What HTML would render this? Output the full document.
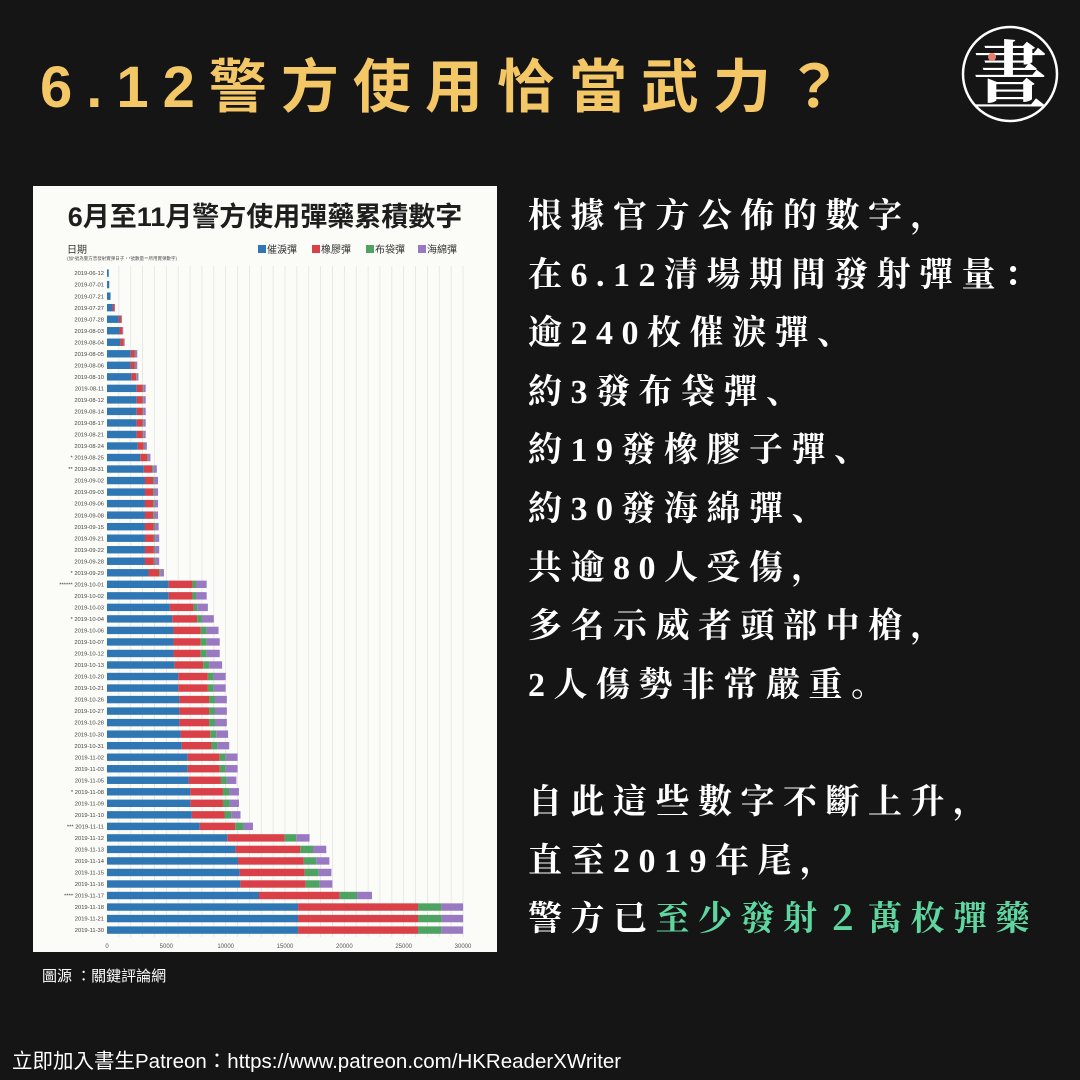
<!DOCTYPE html>
<html><head><meta charset="utf-8">
<style>
html,body{margin:0;padding:0;background:#151515;}
#root{position:relative;width:1080px;height:1080px;overflow:hidden;background:#151515;font-family:"Liberation Sans","Noto Sans CJK TC",sans-serif;}
.title{position:absolute;left:40px;top:52px;font-size:58px;font-weight:bold;color:#f4c766;letter-spacing:14px;white-space:nowrap;font-family:"Liberation Sans","Noto Sans CJK TC",sans-serif;line-height:72px;}
.body{position:absolute;left:528px;top:188px;color:#fff;font-family:"Liberation Serif","Noto Serif CJK SC",serif;font-weight:bold;font-size:34px;letter-spacing:8.5px;line-height:58.6px;white-space:nowrap;}
.g{color:#5fd6a0;}
.src{position:absolute;left:42px;top:965px;color:#fff;font-size:15px;}
.foot{position:absolute;left:12px;top:1044px;color:#fff;font-size:20.5px;white-space:nowrap;}
</style></head><body><div id="root">
<div class="title">6.12警方使用恰當武力？</div>
<svg style="position:absolute;left:955px;top:22px" width="120" height="110">
<circle cx="55" cy="52" r="47" fill="none" stroke="#fff" stroke-width="2.5"/>
<text x="55" y="80" fill="#fff" font-size="74" font-weight="bold" text-anchor="middle" font-family="Noto Serif CJK SC,serif">晝</text>
<circle cx="37" cy="35" r="4" fill="#e88070"/>
</svg>
<svg id="chart" style="position:absolute;left:0;top:0" width="1080" height="1080"></svg>
<div class="body">根據官方公佈的數字，<br>在6.12清場期間發射彈量：<br>逾240枚催淚彈、<br>約3發布袋彈、<br>約19發橡膠子彈、<br>約30發海綿彈、<br>共逾80人受傷，<br>多名示威者頭部中槍，<br>2人傷勢非常嚴重。<br><br>自此這些數字不斷上升，<br>直至2019年尾，<br>警方已<span class="g">至少發射２萬枚彈藥</span></div>
<div class="src">圖源 ：關鍵評論網</div>
<div class="foot">立即加入書生Patreon：https://www.patreon.com/HKReaderXWriter</div>
</div>
<script>
var rows=[
["06-12",[150,0,0,0]],["07-01",[190,0,0,0]],["07-21",[300,0,0,0]],["07-27",[500,150,0,20]],
["07-28",[1000,200,20,50]],["08-03",[1050,250,20,50]],["08-04",[1100,300,30,60]],
["08-05",[2000,350,50,150]],["08-06",[2000,350,50,150]],["08-10",[2050,400,50,150]],
["08-11",[2500,500,60,200]],["08-12",[2500,500,60,200]],["08-14",[2500,500,60,200]],["08-17",[2500,500,60,200]],
["08-21",[2500,500,60,200]],["08-24",[2600,500,60,200]],["08-25",[2800,600,60,200]],
["08-31",[3100,700,100,300]],["09-02",[3200,700,100,300]],["09-03",[3200,700,100,300]],["09-06",[3200,700,100,300]],
["09-08",[3200,700,100,300]],["09-15",[3200,750,100,300]],["09-21",[3200,750,100,350]],["09-22",[3200,750,100,350]],
["09-28",[3200,750,100,350]],["09-29",[3500,900,100,300]],
["10-01",[5200,2000,300,900]],["10-02",[5200,2000,300,900]],["10-03",[5300,2000,300,900]],
["10-04",[5500,2100,400,1000]],["10-06",[5600,2300,500,1000]],["10-07",[5600,2300,500,1100]],
["10-12",[5600,2300,500,1100]],["10-13",[5700,2400,500,1100]],["10-20",[6000,2500,500,1000]],
["10-21",[6000,2500,500,1000]],["10-26",[6100,2500,500,1000]],["10-27",[6100,2500,500,1000]],
["10-28",[6100,2500,500,1000]],["10-30",[6200,2500,500,1000]],["10-31",[6300,2500,500,1000]],
["11-02",[6800,2700,500,1000]],["11-03",[6800,2700,500,1000]],["11-05",[6900,2700,500,800]],
["11-08",[7020,2750,560,790]],["11-09",[7020,2750,560,790]],["11-10",[7150,2750,560,790]],
["11-11",[7810,3000,700,790]],["11-12",[10140,4830,980,1120]],["11-13",[10840,5450,1070,1120]],
["11-14",[11040,5530,1070,1100]],["11-15",[11180,5480,1180,1070]],["11-16",[11240,5500,1180,1070]],
["11-17",[12810,6800,1460,1260]],["11-18",[16100,10110,1970,1830]],["11-21",[16100,10110,1970,1830]],["11-30",[16100,10110,1970,1830]]];
var stars={"08-25":"*","08-31":"**","09-29":"*","10-01":"******","10-04":"*","11-08":"*","11-11":"***","11-17":"****"};
var cols=["#2f76b4","#d94047","#4ea262","#9a79c3"];
var F='font-family="Liberation Sans,Noto Sans CJK TC,sans-serif"';
var s='<rect x="33" y="186" width="464" height="766" fill="#fbfbf8"/>';
s+='<text x="265" y="226" font-size="27" font-weight="bold" text-anchor="middle" fill="#1e1e1e" '+F+'>6月至11月警方使用彈藥累積數字</text>';
s+='<text x="67" y="253" font-size="10" fill="#333" '+F+'>日期</text>';
s+='<text x="67" y="260" font-size="4.5" fill="#555" '+F+'>(加*號為警方曾發射實彈日子，*號數量＝所用實彈數字)</text>';
var lx=[258,312,366,418],ln=["催淚彈","橡膠彈","布袋彈","海綿彈"];
for(var i=0;i<4;i++){s+='<rect x="'+lx[i]+'" y="245" width="8" height="8" fill="'+cols[i]+'"/><text x="'+(lx[i]+9)+'" y="253" font-size="10" fill="#333" '+F+'>'+ln[i]+'</text>';}
var x0=107,k=356/30000;
for(var v=1000;v<=30000;v+=1000){var x=x0+v*k;s+='<line x1="'+x+'" y1="266" x2="'+x+'" y2="937" stroke="#e4e4e0" stroke-width="0.8"/>';}
for(var v=0;v<=30000;v+=5000){s+='<text x="'+(x0+v*k)+'" y="948" font-size="6" fill="#555" text-anchor="middle" font-family="Liberation Sans,sans-serif">'+v+'</text>';}
var y0=273,dy=657/57;
rows.forEach(function(r,i){var y=y0+i*dy;var x=x0;
 s+='<text x="104" y="'+(y+2.2)+'" font-size="5.8" fill="#444" text-anchor="end" font-family="Liberation Sans,sans-serif">'+(stars[r[0]]?stars[r[0]]+' ':'')+'2019-'+r[0]+'</text>';
 for(var j=0;j<4;j++){var w=r[1][j]*k;if(w>0){s+='<rect x="'+x+'" y="'+(y-3.6)+'" width="'+w+'" height="7.4" fill="'+cols[j]+'"/>';x+=w;}}
});
document.getElementById('chart').innerHTML=s;
</script>
</body></html>
